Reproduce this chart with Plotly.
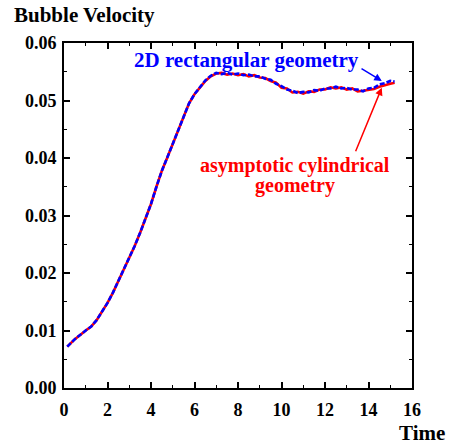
import plotly.graph_objects as go

# Time values
time_vals = [0.15, 0.5, 1.0, 1.25, 1.5, 1.75, 2.0, 2.25, 2.5, 2.75, 3.0, 3.25, 3.5, 3.75,
             4.0, 4.25, 4.5, 4.75, 5.0, 5.25, 5.5, 5.75, 6.0, 6.25, 6.5, 6.75,
             7.0, 7.25, 7.5, 7.75, 8.0, 8.25, 8.5, 8.75, 9.0, 9.25, 9.5, 9.75,
             10.0, 10.25, 10.5, 10.75, 11.0, 11.25, 11.5, 11.75, 12.0, 12.25, 12.5, 12.75,
             13.0, 13.25, 13.5, 13.75, 14.0, 14.25, 14.5, 14.75, 15.0, 15.2]

# 2D rectangular geometry (blue, dashed)
vel_rect = [0.0072, 0.0085, 0.0100, 0.0107, 0.0118, 0.0132, 0.0148, 0.0166, 0.0186, 0.0205,
            0.0225, 0.0247, 0.0270, 0.0294, 0.0320, 0.0350, 0.0378, 0.0401, 0.0425, 0.0450,
            0.0474, 0.0495, 0.0511, 0.0524, 0.0535, 0.0543, 0.0548, 0.0546, 0.0548, 0.0545,
            0.0547, 0.0544, 0.0545, 0.0542, 0.0542, 0.0538, 0.0536, 0.0529, 0.0525, 0.0519,
            0.0517, 0.0513, 0.0515, 0.0514, 0.0518, 0.0517, 0.0521, 0.0521, 0.0524, 0.0521,
            0.0522, 0.0519, 0.0519, 0.0516, 0.0521, 0.0522, 0.0528, 0.0530, 0.0534, 0.0533]

# asymptotic cylindrical geometry (red, solid)
vel_cyl = [0.0072, 0.0085, 0.0100, 0.0107, 0.0118, 0.0132, 0.0148, 0.0166, 0.0186, 0.0205,
           0.0225, 0.0247, 0.0270, 0.0294, 0.0320, 0.0350, 0.0378, 0.0401, 0.0425, 0.0450,
           0.0474, 0.0495, 0.0511, 0.0523, 0.0534, 0.0542, 0.0547, 0.0548, 0.0545, 0.0547,
           0.0544, 0.0546, 0.0542, 0.0544, 0.0540, 0.0539, 0.0534, 0.0531, 0.0522, 0.0521,
           0.0514, 0.0515, 0.0512, 0.0516, 0.0515, 0.0519, 0.0519, 0.0523, 0.0521, 0.0523,
           0.0519, 0.0521, 0.0516, 0.0517, 0.0518, 0.0520, 0.0524, 0.0526, 0.0529, 0.0531]

x_tick_vals = [0, 2, 4, 6, 8, 10, 12, 14, 16]
y_tick_vals = [0.00, 0.01, 0.02, 0.03, 0.04, 0.05, 0.06]

FONT = "Liberation Serif"

fig = go.Figure()
fig.add_trace(go.Scatter(x=time_vals, y=vel_cyl, mode="lines",
                         line=dict(color="#ff0000", width=2.6), showlegend=False))
fig.add_trace(go.Scatter(x=time_vals, y=vel_rect, mode="lines",
                         line=dict(color="#0000ff", width=2.6, dash="5px,2px"), showlegend=False))

axis_common = dict(showline=True, linewidth=2, linecolor="black", mirror="allticks",
                   ticks="inside", ticklen=6, tickwidth=1.5, tickcolor="black",
                   showgrid=False, zeroline=False,
                   tickfont=dict(family=FONT, size=18, color="black", weight="bold"))

fig.update_xaxes(range=[0, 16], tickvals=x_tick_vals, ticklabelstandoff=4,
                 minor=dict(ticks="inside", ticklen=3, dtick=1, tickcolor="black", tickwidth=1.2),
                 **axis_common)
fig.update_yaxes(range=[0, 0.06], tickvals=y_tick_vals, tickformat=".2f", ticklabelstandoff=2,
                 minor=dict(ticks="inside", ticklen=3, dtick=0.005, tickcolor="black", tickwidth=1.2),
                 **axis_common)

annots = [
    dict(text="Bubble Velocity", xref="paper", yref="paper", x=-0.149, y=1.081,
         xanchor="left", yanchor="middle", showarrow=False,
         font=dict(family=FONT, size=21, color="black", weight="bold")),
    dict(text="Time", xref="paper", yref="paper", x=1.10, y=-0.130,
         xanchor="right", yanchor="middle", showarrow=False,
         font=dict(family=FONT, size=21, color="black", weight="bold")),
    dict(text="2D rectangular geometry", x=8.37, y=0.0570, xanchor="center", yanchor="middle",
         showarrow=False, font=dict(family=FONT, size=21, color="#0000ff", weight="bold")),
    dict(text="asymptotic cylindrical", x=10.62, y=0.0387, xanchor="center", yanchor="middle",
         showarrow=False, font=dict(family=FONT, size=20, color="#ff0000", weight="bold")),
    dict(text="geometry", x=10.62, y=0.0352, xanchor="center", yanchor="middle",
         showarrow=False, font=dict(family=FONT, size=20, color="#ff0000", weight="bold")),
    dict(text="", x=14.61, y=0.0534, ax=13.61, ay=0.0557, axref="x", ayref="y",
         showarrow=True, arrowhead=2, arrowsize=1, arrowwidth=1.5, arrowcolor="#0000ff"),
    dict(text="", x=14.61, y=0.0522, ax=13.38, ay=0.0409, axref="x", ayref="y",
         showarrow=True, arrowhead=2, arrowsize=1, arrowwidth=1.5, arrowcolor="#ff0000"),
]

fig.update_layout(width=451, height=447, margin=dict(l=64, r=39, t=43, b=59),
                  plot_bgcolor="white", paper_bgcolor="white", annotations=annots,
                  font=dict(family=FONT))

fig.write_html("out.html")
